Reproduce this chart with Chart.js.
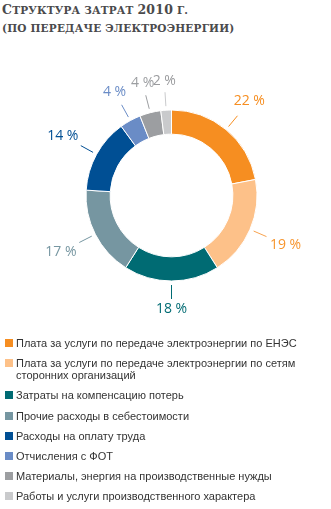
<!DOCTYPE html>
<html><head><meta charset="utf-8">
<script src="https://cdn.jsdelivr.net/npm/chart.js@4/dist/chart.umd.min.js"></script>
<style>
html,body{margin:0;padding:0;background:#fff;width:331px;height:509px;overflow:hidden;position:relative}
#title{position:absolute;left:2px;top:1px;font-family:"DejaVu Serif",serif;font-weight:bold;font-size:10.5px;line-height:18px;color:#4a4a4c;white-space:nowrap;text-transform:uppercase;letter-spacing:0.2px}
#title .big{font-size:12.5px}
#wrap{position:absolute;left:0;top:0;width:331px;height:509px}
#legend{position:absolute;left:5px;top:337px;font-family:"Liberation Sans",Arial,sans-serif;font-size:11px;line-height:12px;color:#333}
.item{position:relative;padding-left:11px;margin-bottom:8.2px}
.sw{position:absolute;left:0;top:2px;width:8px;height:8px}
</style></head>
<body>
<div id="title"><span class="big">С</span>труктура затрат <span class="big">2010</span> г.<br>(по передаче электроэнергии)</div>
<div id="wrap"><canvas id="c" width="331" height="509"></canvas></div>
<div id="legend"></div>
<script>
const categories = [
  "Плата за услуги по передаче электроэнергии по ЕНЭС",
  "Плата за услуги по передаче электроэнергии по сетям\nсторонних организаций",
  "Затраты на компенсацию потерь",
  "Прочие расходы в себестоимости",
  "Расходы на оплату труда",
  "Отчисления с ФОТ",
  "Материалы, энергия на производственные нужды",
  "Работы и услуги производственного характера"
];
const values = [22, 19, 18, 17, 14, 4, 4, 2];
const colors = ["#f68e21", "#fdc189", "#006b73", "#7696a1", "#004f94", "#6a8cc6", "#9c9ea1", "#c9cacc"];
const labelColors = ["#f68e21", "#f7952e", "#006b73", "#7696a1", "#004f94", "#6a8cc6", "#9c9ea1", "#9a9b9e"];
const leaderColors = ["#f68e21", "#f7a24e", "#006b73", "#7696a1", "#004f94", "#6a8cc6", "#9c9ea1", "#c9cacc"];

// legend
const lg = document.getElementById('legend');
categories.forEach((c, i) => {
  const d = document.createElement('div'); d.className = 'item';
  const s = document.createElement('span'); s.className = 'sw'; s.style.background = colors[i];
  d.appendChild(s);
  c.split('\n').forEach((line, k) => { if (k) d.appendChild(document.createElement('br')); d.appendChild(document.createTextNode(line)); });
  lg.appendChild(d);
});

const labelPlugin = {
  id: 'pctLabels',
  afterDatasetsDraw(chart) {
    const ctx = chart.ctx;
    const meta = chart.getDatasetMeta(0);
    ctx.save();
    ctx.font = '14px "Open Sans", sans-serif';
    ctx.textAlign = 'center';
    ctx.textBaseline = 'middle';
    meta.data.forEach((arc, i) => {
      const p = arc.getProps(['x', 'y', 'startAngle', 'endAngle', 'outerRadius'], true);
      const mid = (p.startAngle + p.endAngle) / 2;
      const cx = Math.cos(mid), cy = Math.sin(mid);
      const r1 = p.outerRadius + 4, r2 = p.outerRadius + 18;
      ctx.strokeStyle = leaderColors[i];
      ctx.lineWidth = 1;
      ctx.beginPath();
      ctx.moveTo(p.x + cx * r1, p.y + cy * r1);
      ctx.lineTo(p.x + cx * r2, p.y + cy * r2);
      ctx.stroke();
      const txt = values[i] + ' %';
      const w = ctx.measureText(txt).width, h = 12;
      const ext = Math.abs(cx) * w / 2 + Math.abs(cy) * h / 2;
      const rt = p.outerRadius + 22 + ext;
      ctx.fillStyle = labelColors[i];
      ctx.fillText(txt, p.x + cx * rt, p.y + cy * rt);
    });
    ctx.restore();
  }
};

new Chart(document.getElementById('c'), {
  type: 'doughnut',
  data: {
    labels: categories,
    datasets: [{ data: values, backgroundColor: colors, borderColor: '#ffffff', borderWidth: 1, hoverOffset: 0 }]
  },
  options: {
    responsive: false,
    animation: false,
    radius: 85.5,
    cutout: 61,
    layout: { padding: { left: 86, right: 74, top: 110, bottom: 228 } },
    plugins: { legend: { display: false }, tooltip: { enabled: false }, title: { display: false } }
  },
  plugins: [labelPlugin]
});
</script>
</body></html>
